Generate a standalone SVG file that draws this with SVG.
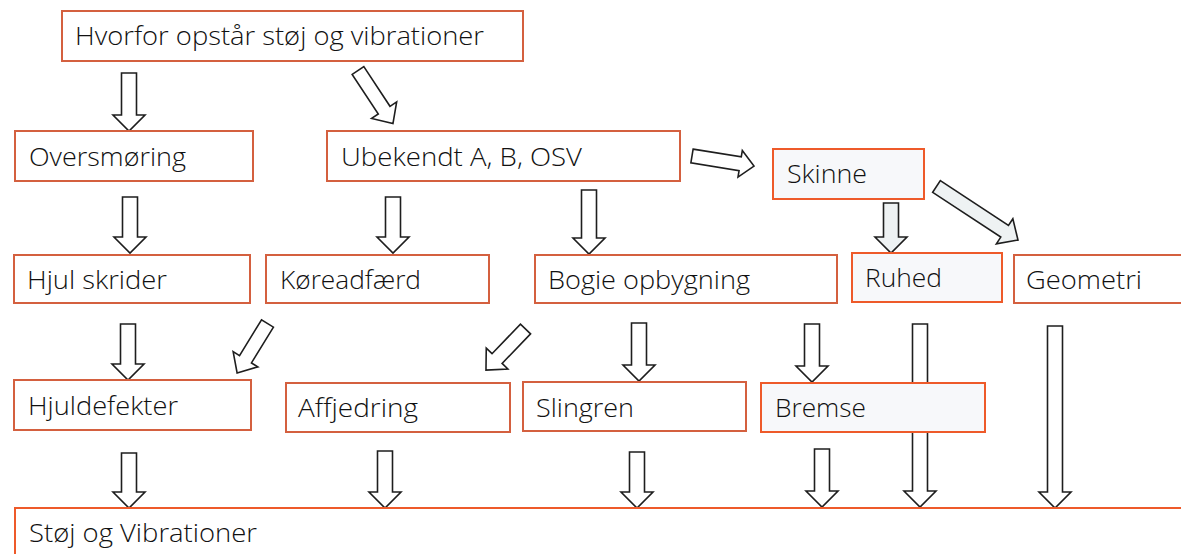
<svg xmlns="http://www.w3.org/2000/svg" width="1181" height="554" viewBox="0 0 1181 554">
<style>
.b{fill:#ffffff;stroke:#d4603f;stroke-width:2}
.b2{fill:#f7f8fa;stroke:#ee5a2a;stroke-width:2}
.t{font-family:"Open Sans","Noto Sans",sans-serif;font-size:25px;font-weight:300;fill:#111111}
.a{fill:#ffffff;stroke:#1e1e1e;stroke-width:1.6;stroke-linejoin:miter}
.ag{fill:#eef2f3;stroke:#1e1e1e;stroke-width:1.6}
</style>
<rect width="1181" height="554" fill="#ffffff"/>
<g id="connectors">
<polygon class="a" points="121.5,73 136.5,73 136.5,115 145,115 129,131 113,115 121.5,115"/>
<polygon class="a" points="122.5,197 137.5,197 137.5,237 146,237 130,253 114,237 122.5,237"/>
<polygon class="a" points="385.5,197 400.5,197 400.5,237 409,237 393,253 377,237 385.5,237"/>
<polygon class="a" points="581.5,190 596.5,190 596.5,238 605,238 589,254 573,238 581.5,238"/>
<polygon class="ag" points="883.5,203 898.5,203 898.5,237 907,237 891,253 875,237 883.5,237"/>
<polygon class="a" points="120.5,324 135.5,324 135.5,364 144,364 128,380 112,364 120.5,364"/>
<polygon class="a" points="631.5,323 646.5,323 646.5,365 655,365 639,381 623,365 631.5,365"/>
<polygon class="a" points="804.5,324 819.5,324 819.5,366 828,366 812,382 796,366 804.5,366"/>
<polygon class="a" points="912.5,324 927.5,324 927.5,491 936,491 920,507 904,491 912.5,491"/>
<polygon class="a" points="1047.5,326 1062.5,326 1062.5,492 1071,492 1055,508 1039,492 1047.5,492"/>
<polygon class="a" points="121.5,453 136.5,453 136.5,492 145,492 129,508 113,492 121.5,492"/>
<polygon class="a" points="377.5,451 392.5,451 392.5,492 401,492 385,508 369,492 377.5,492"/>
<polygon class="a" points="629.5,452 644.5,452 644.5,492 653,492 637,508 621,492 629.5,492"/>
<polygon class="a" points="814.5,449 829.5,449 829.5,491 838,491 822,507 806,491 814.5,491"/>
<polygon class="a" transform="translate(358,70.5) rotate(56.6)" points="0,-7 47.5,-7 47.5,-15 63.5,0 47.5,15 47.5,7 0,7"/>
<polygon class="a" transform="translate(692,156) rotate(9.2)" points="0,-7 48.8,-7 48.8,-13.5 62.8,0 48.8,13.5 48.8,7 0,7"/>
<polygon class="ag" transform="translate(936.5,186.5) rotate(33.3)" points="0,-7 81.5,-7 81.5,-15 97.5,0 81.5,15 81.5,7 0,7"/>
<polygon class="a" transform="translate(267.5,323.5) rotate(121.6)" points="0,-7 42,-7 42,-14.5 58,0 42,14.5 42,7 0,7"/>
<polygon class="a" transform="translate(525.5,329) rotate(133.9)" points="0,-7 41,-7 41,-15 57,0 41,15 41,7 0,7"/>
</g>
<g id="n-hvorfor"><rect class="b" x="62" y="11" width="461" height="50"/><text class="t" x="75" y="45" textLength="409" lengthAdjust="spacingAndGlyphs">Hvorfor opstår støj og vibrationer</text></g>
<g id="n-oversmoring"><rect class="b" x="15" y="131" width="238" height="50"/><text class="t" x="29" y="166" textLength="157" lengthAdjust="spacingAndGlyphs">Oversmøring</text></g>
<g id="n-ubekendt"><rect class="b" x="327" y="131" width="353" height="50"/><text class="t" x="341" y="166" textLength="241" lengthAdjust="spacingAndGlyphs">Ubekendt A, B, OSV</text></g>
<g id="n-skinne"><rect class="b2" x="773" y="149" width="151" height="50"/><text class="t" x="787" y="183" textLength="80" lengthAdjust="spacingAndGlyphs">Skinne</text></g>
<g id="n-hjulskrider"><rect class="b" x="14" y="255" width="236" height="48"/><text class="t" x="27" y="289" textLength="140" lengthAdjust="spacingAndGlyphs">Hjul skrider</text></g>
<g id="n-koreadfaerd"><rect class="b" x="266" y="255" width="223" height="48"/><text class="t" x="280" y="289" textLength="141" lengthAdjust="spacingAndGlyphs">Køreadfærd</text></g>
<g id="n-bogie"><rect class="b" x="535" y="255" width="302" height="48"/><text class="t" x="548" y="289" textLength="202" lengthAdjust="spacingAndGlyphs">Bogie opbygning</text></g>
<g id="n-ruhed"><rect class="b2" x="852" y="253" width="150" height="49"/><text class="t" x="865" y="287" textLength="77" lengthAdjust="spacingAndGlyphs">Ruhed</text></g>
<g id="n-geometri"><rect class="b" x="1014" y="255" width="190" height="48"/><text class="t" x="1026" y="289" textLength="116" lengthAdjust="spacingAndGlyphs">Geometri</text></g>
<g id="n-hjuldefekter"><rect class="b" x="14" y="380" width="237" height="50"/><text class="t" x="28" y="415" textLength="150" lengthAdjust="spacingAndGlyphs">Hjuldefekter</text></g>
<g id="n-affjedring"><rect class="b" x="286" y="383" width="224" height="49"/><text class="t" x="298" y="417" textLength="120" lengthAdjust="spacingAndGlyphs">Affjedring</text></g>
<g id="n-slingren"><rect class="b" x="523" y="382" width="223" height="49"/><text class="t" x="536" y="417" textLength="98" lengthAdjust="spacingAndGlyphs">Slingren</text></g>
<g id="n-bremse"><rect class="b2" x="761" y="383" width="224" height="49"/><text class="t" x="775" y="417" textLength="91" lengthAdjust="spacingAndGlyphs">Bremse</text></g>
<g id="n-stoj"><rect class="b2" x="15" y="508" width="1190" height="60" style="fill:#ffffff"/><text class="t" x="29" y="542" textLength="228" lengthAdjust="spacingAndGlyphs">Støj og Vibrationer</text></g>
</svg>
